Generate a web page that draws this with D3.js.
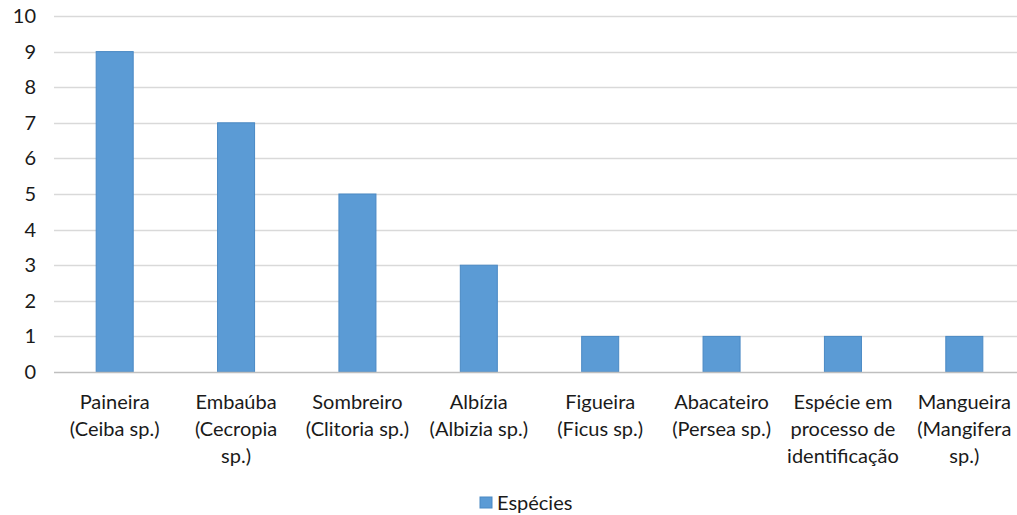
<!DOCTYPE html>
<html>
<head>
<meta charset="utf-8">
<script src="https://cdn.jsdelivr.net/npm/d3@7"></script>
<style>
  html, body { margin: 0; padding: 0; background: #fff; }
  svg { display: block; }
</style>
</head>
<body>
<svg id="chart" width="1017" height="515"></svg>
<script>
// Species counts
const categories = [
  ["Paineira", "(Ceiba sp.)"],
  ["Embaúba", "(Cecropia", "sp.)"],
  ["Sombreiro", "(Clitoria sp.)"],
  ["Albízia", "(Albizia sp.)"],
  ["Figueira", "(Ficus sp.)"],
  ["Abacateiro", "(Persea sp.)"],
  ["Espécie em", "processo de", "identificação"],
  ["Mangueira", "(Mangifera", "sp.)"]
];
const values = [9, 7, 5, 3, 1, 1, 1, 1];
const yTicks = [0, 1, 2, 3, 4, 5, 6, 7, 8, 9, 10];
const seriesName = "Espécies";

const svg = d3.select("#chart");
const font = "Lato, 'Open Sans', sans-serif";
const textColor = "#1a1a1a";

const plot = { left: 54, right: 1025, top: 16, bottom: 372 };

const x = d3.scaleBand()
  .domain(d3.range(categories.length))
  .range([plot.left, plot.right])
  .paddingInner(0.695)
  .paddingOuter(0.3475);

const y = d3.scaleLinear()
  .domain([0, 10])
  .range([plot.bottom, plot.top]);

// Horizontal gridlines
svg.append("g")
  .selectAll("line")
  .data(yTicks.filter(d => d > 0))
  .join("line")
  .attr("x1", plot.left)
  .attr("x2", plot.right)
  .attr("y1", d => Math.round(y(d)) + 0.5)
  .attr("y2", d => Math.round(y(d)) + 0.5)
  .attr("stroke", "#d9d9d9")
  .attr("stroke-width", 1.5);

// Y axis labels
const yAxis = d3.axisLeft(y).tickValues(yTicks).tickSize(0).tickPadding(0);
const gy = svg.append("g")
  .attr("transform", `translate(${plot.left - 18},0)`)
  .call(yAxis);
gy.select(".domain").remove();
gy.selectAll("text")
  .attr("font-family", font)
  .attr("font-size", 20)
  .attr("fill", textColor);

// Bars
svg.append("g")
  .selectAll("rect")
  .data(values)
  .join("rect")
  .attr("x", (d, i) => x(i))
  .attr("y", d => y(d))
  .attr("width", x.bandwidth())
  .attr("height", d => y(0) - y(d))
  .attr("fill", "#5b9bd5")
  .attr("stroke", "#4a89c4")
  .attr("stroke-width", 1);

// Category axis baseline
svg.append("line")
  .attr("x1", plot.left)
  .attr("x2", plot.right)
  .attr("y1", Math.round(y(0)) + 0.5)
  .attr("y2", Math.round(y(0)) + 0.5)
  .attr("stroke", "#bfbfbf")
  .attr("stroke-width", 1.5);

// Category labels (multi-line)
const labels = svg.append("g")
  .selectAll("text")
  .data(categories)
  .join("text")
  .attr("x", (d, i) => x(i) + x.bandwidth() / 2)
  .attr("y", 409)
  .attr("text-anchor", "middle")
  .attr("font-family", font)
  .attr("font-size", 20)
  .attr("fill", textColor);
labels.selectAll("tspan")
  .data(d => d)
  .join("tspan")
  .attr("x", function () { return this.parentNode.getAttribute("x"); })
  .attr("dy", (d, i) => i === 0 ? 0 : 27)
  .text(d => d);

// Legend
const legend = svg.append("g").attr("transform", "translate(480,497)");
legend.append("rect")
  .attr("width", 12)
  .attr("height", 11)
  .attr("fill", "#5b9bd5")
  .attr("stroke", "#4a89c4");
legend.append("text")
  .attr("x", 17)
  .attr("y", 13)
  .attr("font-family", font)
  .attr("font-size", 20)
  .attr("fill", textColor)
  .text(seriesName);
</script>
</body>
</html>
